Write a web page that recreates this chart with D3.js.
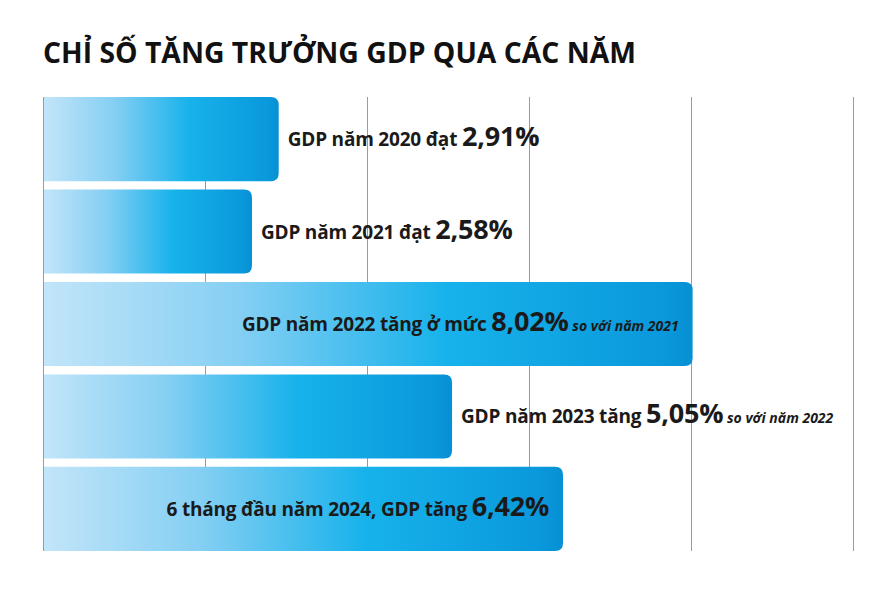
<!DOCTYPE html>
<html>
<head>
<meta charset="utf-8">
<script src="https://cdn.jsdelivr.net/npm/d3@7"></script>
<style>
  html, body { margin: 0; padding: 0; background: #fff; }
  svg { display: block; }
</style>
</head>
<body>
<div id="chart"></div>
<script>
// dữ liệu tăng trưởng GDP
const years = ['2020', '2021', '2022', '2023', '2024']
const values = [2.91, 2.58, 8.02, 5.05, 6.42]
const prefixes = [
  'GDP năm 2020 đạt ',
  'GDP năm 2021 đạt ',
  'GDP năm 2022 tăng ở mức ',
  'GDP năm 2023 tăng ',
  '6 tháng đầu năm 2024, GDP tăng '
]
const suffixes = ['', '', ' so với năm 2021', ' so với năm 2022', '']
const inside = [false, false, true, false, true]
const ticks = [0, 2, 4, 6, 8, 10]
const title = 'CHỈ SỐ TĂNG TRƯỞNG GDP QUA CÁC NĂM'

const width = 883
const height = 589
const font = '"Open Sans", "Noto Sans", sans-serif'

const svg = d3.select('#chart')
  .append('svg')
  .attr('width', width)
  .attr('height', height)
  .style('background-color', '#fff')

const x = d3.scaleLinear().domain([0, 10]).range([43, 853])
const y = d3.scaleBand().domain(years).range([97, 551]).paddingInner(0.09)

const defs = svg.append('defs')
const grad = defs.append('linearGradient')
  .attr('id', 'barGrad')
  .attr('x1', 0).attr('x2', 1).attr('y1', 0).attr('y2', 0)
grad.selectAll('stop')
  .data([
    { o: 0, c: '#c2e5f9' },
    { o: 0.3, c: '#85cff3' },
    { o: 0.62, c: '#17b2eb' },
    { o: 0.95, c: '#0a99dc' },
    { o: 1, c: '#0790d4' }
  ])
  .enter().append('stop')
  .attr('offset', d => d.o)
  .attr('stop-color', d => d.c)

// tiêu đề
svg.append('text')
  .attr('x', 43)
  .attr('y', 63)
  .style('font-family', font)
  .style('font-weight', 700)
  .style('font-size', '28px')
  .attr('fill', '#111')
  .attr('textLength', 593)
  .attr('lengthAdjust', 'spacingAndGlyphs')
  .text(title)

// lưới dọc
svg.append('g')
  .selectAll('line')
  .data(ticks)
  .enter().append('line')
  .attr('x1', d => x(d) + 0.5)
  .attr('x2', d => x(d) + 0.5)
  .attr('y1', y.range()[0])
  .attr('y2', y.range()[1])
  .attr('stroke', '#9a9a9a')
  .attr('stroke-width', 1)

const r = 8
const barPath = (v, yr) => {
  const x0 = x(0) + 1
  const x1 = x(v)
  const y0 = y(yr)
  const h = y.bandwidth()
  return `M${x0},${y0} H${x1 - r} Q${x1},${y0} ${x1},${y0 + r} V${y0 + h - r} Q${x1},${y0 + h} ${x1 - r},${y0 + h} H${x0} Z`
}

svg.append('g')
  .selectAll('path')
  .data(years)
  .enter().append('path')
  .attr('d', (d, i) => barPath(values[i], d))
  .attr('fill', 'url(#barGrad)')

const fmt = v => d3.format('.2f')(v).replace('.', ',') + '%'

const labels = svg.append('g')
  .selectAll('text')
  .data(years)
  .enter().append('text')
  .attr('x', (d, i) => inside[i] ? x(values[i]) - 14 : x(values[i]) + 9)
  .attr('y', d => y(d) + y.bandwidth() / 2 + 7)
  .attr('text-anchor', (d, i) => inside[i] ? 'end' : 'start')
  .style('font-family', font)
  .style('font-weight', 700)
  .attr('fill', '#1a1a1a')

labels.append('tspan')
  .style('font-size', '19px')
  .style('letter-spacing', '-0.2px')
  .text((d, i) => prefixes[i])
labels.append('tspan')
  .style('font-size', '27px')
  .style('letter-spacing', '-0.2px')
  .text((d, i) => fmt(values[i]))
labels.append('tspan')
  .style('font-size', '14px')
  .style('font-style', 'italic')
  .text((d, i) => suffixes[i])
</script>
</body>
</html>
